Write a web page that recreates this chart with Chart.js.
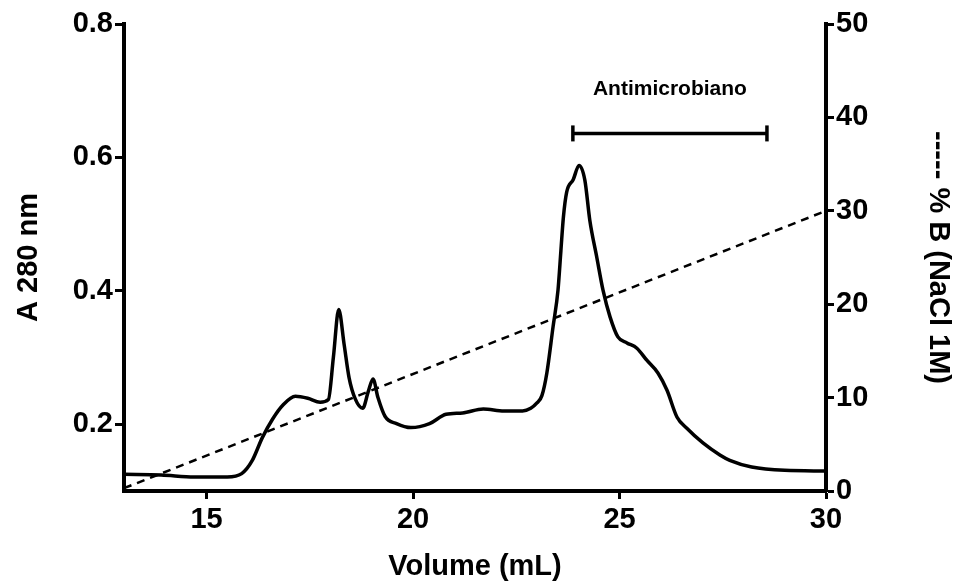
<!DOCTYPE html>
<html>
<head>
<meta charset="utf-8">
<script src="https://cdn.jsdelivr.net/npm/chart.js@4/dist/chart.umd.min.js"></script>
<style>
  html, body { margin: 0; padding: 0; background: #fff; }
  #wrap { width: 965px; height: 584px; }
</style>
</head>
<body>
<div id="wrap"><canvas id="chrom" width="965" height="584"></canvas></div>
<script>
// Volumen de elución (mL) y absorbancia a 280 nm
const volume = [13.0, 13.9, 14.7, 15.5, 15.85, 16.1, 16.35, 16.6, 16.85, 17.15, 17.45, 17.75, 17.95,
  18.07, 18.2, 18.33, 18.45, 18.6, 18.78, 18.92, 19.03, 19.15, 19.32, 19.6, 19.95, 20.4, 20.8, 21.2,
  21.7, 22.2, 22.65, 22.85, 23.0, 23.12, 23.24, 23.39, 23.51, 23.58, 23.64, 23.72, 23.88, 24.02, 24.16,
  24.28, 24.45, 24.6, 24.77, 24.96, 25.18, 25.42, 25.66, 25.93, 26.15, 26.39, 26.63, 27.02, 27.43, 27.67,
  28.2, 29.0, 30.0];
const absorbance = [0.125, 0.124, 0.121, 0.121, 0.126, 0.145, 0.18, 0.208, 0.229, 0.242, 0.239, 0.233, 0.237,
  0.30, 0.372, 0.32, 0.27, 0.238, 0.224, 0.25, 0.268, 0.24, 0.212, 0.201, 0.195, 0.201, 0.215, 0.217,
  0.223, 0.220, 0.220, 0.224, 0.232, 0.243, 0.277, 0.346, 0.401, 0.46, 0.51, 0.548, 0.567, 0.588, 0.566,
  0.506, 0.45, 0.401, 0.361, 0.331, 0.322, 0.314, 0.296, 0.277, 0.251, 0.211, 0.194, 0.172, 0.154, 0.146,
  0.136, 0.131, 0.130];

// Gradiente % B (NaCl 1M)
const gradVolume = [13, 30];
const gradPercent = [0.3, 30];

// Fracción antimicrobiana (barra)
const fracVolume = [23.87, 28.57];
const fracLevel = 0.636;
const fracLabel = 'Antimicrobiano';

// Ticks
const xTicks = [15, 20, 25, 30];
const yTicks = [0.2, 0.4, 0.6, 0.8];

const FONT = "'Liberation Sans', Arial, sans-serif";

const labelPlugin = {
    id: 'fracLabel',
    afterDatasetsDraw(chart) {
        const { ctx, scales } = chart;
        const cx = scales.x.getPixelForValue((fracVolume[0] + fracVolume[1]) / 2);
        const cy = scales.y.getPixelForValue(fracLevel) - 44;
        ctx.save();
        ctx.font = 'bold 21px ' + FONT;
        ctx.fillStyle = '#000';
        ctx.textAlign = 'center';
        ctx.textBaseline = 'middle';
        ctx.fillText(fracLabel, cx, cy);
        ctx.restore();
    }
};

new Chart(document.getElementById('chrom'), {
    type: 'line',
    data: {
        datasets: [{
            label: 'A 280 nm',
            data: volume.map((v, i) => ({ x: v, y: absorbance[i] })),
            yAxisID: 'y',
            borderColor: '#000',
            borderWidth: 3.5,
            pointRadius: 0,
            cubicInterpolationMode: 'monotone',
            fill: false
        }, {
            label: '% B',
            data: gradVolume.map((v, i) => ({ x: v, y: gradPercent[i] })),
            yAxisID: 'y1',
            borderColor: '#000',
            borderWidth: 2.5,
            borderDash: [8, 6],
            pointRadius: 0,
            fill: false
        }, {
            label: fracLabel,
            data: fracVolume.map(v => ({ x: v, y: fracLevel })),
            yAxisID: 'y',
            borderColor: '#000',
            borderWidth: 3.5,
            pointStyle: 'line',
            rotation: 90,
            pointRadius: 8,
            pointBorderWidth: 3.5,
            pointBorderColor: '#000',
            fill: false
        }]
    },
    options: {
        responsive: false,
        animation: false,
        layout: { padding: { top: 24, left: 0, right: 0, bottom: 0 } },
        plugins: { legend: { display: false }, tooltip: { enabled: false } },
        scales: {
            x: {
                type: 'linear',
                min: 13,
                max: 30,
                afterBuildTicks: s => { s.ticks = xTicks.map(v => ({ value: v })); },
                afterFit: s => { s.height = 93; },
                border: { display: true, color: '#000', width: 4 },
                grid: { display: true, drawOnChartArea: false, drawTicks: true, tickLength: 8, tickWidth: 3, tickColor: '#000' },
                ticks: { color: '#000', padding: 4, font: { family: FONT, size: 29, weight: 'bold' } },
                title: { display: true, text: 'Volume (mL)', color: '#000', padding: 0, font: { family: FONT, size: 29, weight: 'bold' } }
            },
            y: {
                type: 'linear',
                position: 'left',
                min: 0.1,
                max: 0.8,
                afterBuildTicks: s => { s.ticks = yTicks.map(v => ({ value: v })); },
                afterFit: s => { s.width = 124; },
                border: { display: true, color: '#000', width: 4 },
                grid: { display: true, drawOnChartArea: false, drawTicks: true, tickLength: 9, tickWidth: 3, tickColor: '#000' },
                ticks: { color: '#000', padding: 2, callback: v => v.toFixed(1), font: { family: FONT, size: 29, weight: 'bold' } },
                title: { display: true, text: 'A 280 nm', color: '#000', padding: { top: 12 }, font: { family: FONT, size: 29, weight: 'bold' } }
            },
            y1: {
                type: 'linear',
                position: 'right',
                min: 0,
                max: 50,
                afterFit: s => { s.width = 139; },
                border: { display: true, color: '#000', width: 4 },
                grid: { display: true, drawOnChartArea: false, drawTicks: true, tickLength: 8, tickWidth: 3, tickColor: '#000' },
                ticks: { color: '#000', stepSize: 10, padding: 2, font: { family: FONT, size: 29, weight: 'bold' } },
                title: { display: true, text: '----- % B (NaCl 1M)', color: '#000', padding: { top: 10 }, font: { family: FONT, size: 29, weight: 'bold' } }
            }
        }
    },
    plugins: [labelPlugin]
});
</script>
</body>
</html>
